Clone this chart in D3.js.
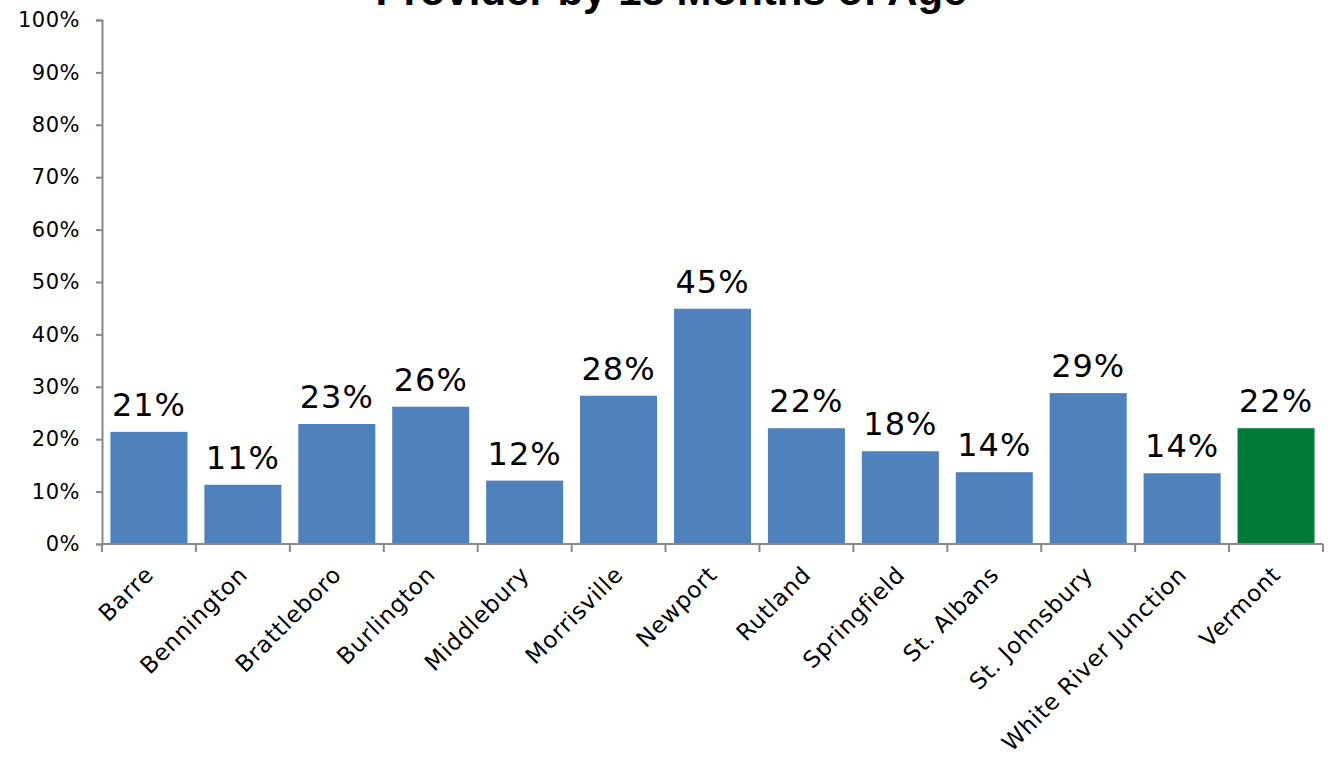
<!DOCTYPE html>
<html><head><meta charset="utf-8">
<script src="https://cdn.jsdelivr.net/npm/d3@7"></script>
<style>body{margin:0;background:#fff}svg{display:block}</style>
</head><body>
<svg id="c" width="1330" height="760"></svg>
<script>
const categories = ["Barre","Bennington","Brattleboro","Burlington","Middlebury","Morrisville","Newport","Rutland","Springfield","St. Albans","St. Johnsbury","White River Junction","Vermont"];
const values = [21.4, 11.3, 22.9, 26.2, 12.1, 28.3, 44.9, 22.1, 17.7, 13.7, 28.8, 13.5, 22.1];
const yTicks = [0,10,20,30,40,50,60,70,80,90,100];
const titleText = "Provider by 18 Months of Age";

(function(){
const svg = d3.select("#c");
const pLeft = 102, pRight = 1323, pTop = 20, pBottom = 544;
const font = "'DejaVu Sans', sans-serif";
const x = d3.scaleBand().domain(categories).range([pLeft, pRight]).paddingInner(0.18).paddingOuter(0.09);
const y = d3.scaleLinear().domain([0,100]).range([pBottom, pTop]);

svg.append("text").attr("x", 671).attr("y", 5).attr("text-anchor","middle")
  .attr("font-family","'Liberation Sans', Arial, sans-serif").attr("font-weight","bold")
  .attr("font-size", 42).text(titleText);

svg.selectAll("rect.bar").data(values).enter().append("rect")
  .attr("x", (d,i)=>x(categories[i])).attr("width", x.bandwidth())
  .attr("y", d=>y(d)).attr("height", d=>pBottom - y(d))
  .attr("fill", (d,i)=> categories[i]==="Vermont" ? "#007A37" : "#4F81BD");

svg.selectAll("text.lbl").data(values).enter().append("text")
  .attr("x", (d,i)=>x(categories[i]) + x.bandwidth()/2)
  .attr("y", d=>y(d) - 16).attr("text-anchor","middle")
  .attr("font-family", font).attr("font-size", 32).attr("letter-spacing", 1).attr("fill","#000")
  .text(d=>Math.round(d)+"%");

const ya = svg.append("g").attr("transform",`translate(${pLeft},0)`)
  .call(d3.axisLeft(y).tickValues(yTicks).tickFormat(d=>d+"%").tickSize(6).tickPadding(16));
ya.select(".domain").attr("stroke","#888").attr("stroke-width",2);
ya.selectAll(".tick line").attr("stroke","#888").attr("stroke-width",2);
ya.selectAll(".tick text").attr("font-family",font).attr("font-size",21).attr("letter-spacing",0.5).attr("fill","#000");

const xa = svg.append("g").attr("transform",`translate(0,${pBottom})`);
xa.append("line").attr("x1",pLeft).attr("x2",pRight).attr("stroke","#888").attr("stroke-width",2);
const bounds = categories.map(c=>x(c) - x.step()*x.paddingInner()/2).concat([pRight]);
xa.selectAll("line.t").data(bounds).enter().append("line")
  .attr("x1",d=>d).attr("x2",d=>d).attr("y1",0).attr("y2",8)
  .attr("stroke","#888").attr("stroke-width",2);
xa.selectAll("text").data(categories).enter().append("text")
  .attr("transform", c=>`translate(${x(c)+x.bandwidth()/2+6},${32}) rotate(-45)`)
  .attr("text-anchor","end").attr("font-family",font).attr("font-size",23).attr("letter-spacing",0.8).attr("fill","#000")
  .text(c=>c);
})();
</script>
</body></html>
